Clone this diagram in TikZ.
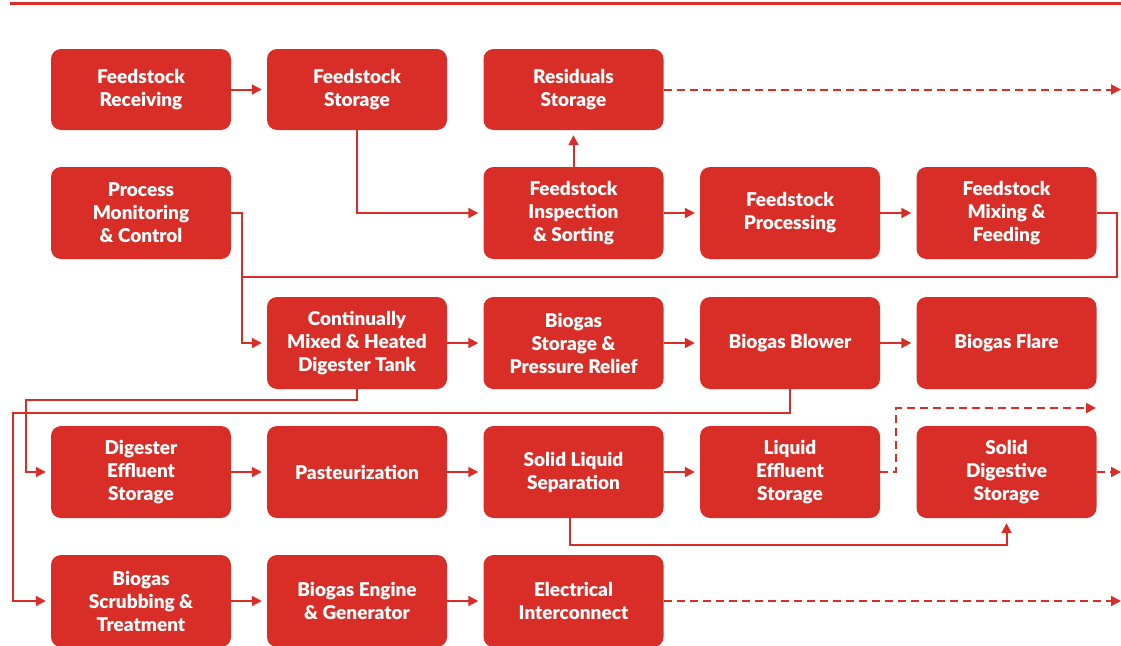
\documentclass[tikz,border=0pt]{standalone}
\usepackage{fontspec}
\setmainfont{Lato}
\newfontfamily\stagefont{Lato}[UprightFont=* Black]
\usetikzlibrary{arrows.meta}
\definecolor{brandred}{RGB}{217,46,39}
\begin{document}
\begin{tikzpicture}[x=1pt,y=-1pt,
  stage/.style={fill=brandred, rounded corners=10pt, minimum width=180pt,
    minimum height=92pt, inner sep=0pt, text=white, align=center,
    font=\stagefont\fontsize{19}{23}\selectfont},
  shortstage/.style={stage, minimum height=81pt},
  wire/.style={draw=brandred, line width=2pt},
  flow/.style={wire, -{Triangle[length=10pt,width=10pt]}, shorten >=5pt},
  outflow/.style={wire, dash pattern=on 8pt off 5pt, -{Triangle[length=10pt,width=10pt]}}
]
\useasboundingbox (0,0) rectangle (1121,645);

% header rule
\draw[brandred, line width=2.4pt] (10,3.5) -- (1121,3.5);

% row 1
\node[shortstage] (fr)  at (141,89.5)   {Feedstock\\Receiving};
\node[shortstage] (fs)  at (357,89.5)   {Feedstock\\Storage};
\node[shortstage] (rs)  at (573.5,89.5) {Residuals\\Storage};
% row 2
\node[stage] (pmc) at (141,213)    {Process\\Monitoring\\\& Control};
\node[stage] (fis) at (573.5,213)  {Feedstock\\Inspection\\\& Sorting};
\node[stage] (fp)  at (790,213)    {Feedstock\\Processing};
\node[stage] (fmf) at (1006.5,213) {Feedstock\\Mixing \&\\Feeding};
% row 3
\node[stage] (cmh)  at (357,343)    {Continually\\Mixed \& Heated\\Digester Tank};
\node[stage] (bspr) at (573.5,343)  {Biogas\\Storage \&\\Pressure Relief};
\node[stage] (bb)   at (790,343)    {Biogas Blower};
\node[stage] (bf)   at (1006.5,343) {Biogas Flare};
% row 4
\node[stage] (des) at (141,472)    {Digester\\Effluent\\Storage};
\node[stage] (pas) at (357,472)    {Pasteurization};
\node[stage] (sls) at (573.5,472)  {Solid Liquid\\Separation};
\node[stage] (les) at (790,472)    {Liquid\\Effluent\\Storage};
\node[stage] (sds) at (1006.5,472) {Solid\\Digestive\\Storage};
% row 5
\node[stage] (bst) at (141,601)   {Biogas\\Scrubbing \&\\Treatment};
\node[stage] (beg) at (357,601)   {Biogas Engine\\\& Generator};
\node[stage] (ei)  at (573.5,601) {Electrical\\Interconnect};

% routing points
\coordinate (rsout)  at (1121,89.5);
\coordinate (ctlbus) at (242,277);
\coordinate (fback)  at (1117,213);
\coordinate (effl)   at (26,400);
\coordinate (gasl)   at (13,413);
\coordinate (lesjog) at (896,472);
\coordinate (lesout) at (1096,408);
\coordinate (sdsout) at (1121,472);
\coordinate (eiout)  at (1121,601);

% feedstock handling
\draw[flow] (fr) -- (fs);
\draw[flow] (fs.south) |- (fis.west);
\draw[flow] (fis.north) -- (rs.south);
\draw[outflow] (rs.east) -- (rsout);
\draw[flow] (fis) -- (fp);
\draw[flow] (fp) -- (fmf);

% control and feed into the digester
\draw[flow] (pmc.east) -| (ctlbus) |- (cmh.west);
\draw[wire] (fmf.east) -- (fback) |- (ctlbus);

% digestion and biogas
\draw[flow] (cmh) -- (bspr);
\draw[flow] (bspr) -- (bb);
\draw[flow] (bb) -- (bf);
\draw[flow] (cmh.south) |- (effl) |- (des.west);
\draw[flow] (bb.south) |- (gasl) |- (bst.west);

% effluent treatment
\draw[flow] (des) -- (pas);
\draw[flow] (pas) -- (sls);
\draw[flow] (sls) -- (les);
\draw[outflow] (les.east) -- (lesjog) |- (lesout);
\draw[outflow] (sds.east) -- (sdsout);
\draw[flow] ([xshift=-3.5pt]sls.south) -- ++(0,27) -| (sds.south);

% power generation
\draw[flow] (bst) -- (beg);
\draw[flow] (beg) -- (ei);
\draw[outflow] (ei.east) -- (eiout);
\end{tikzpicture}
\end{document}
